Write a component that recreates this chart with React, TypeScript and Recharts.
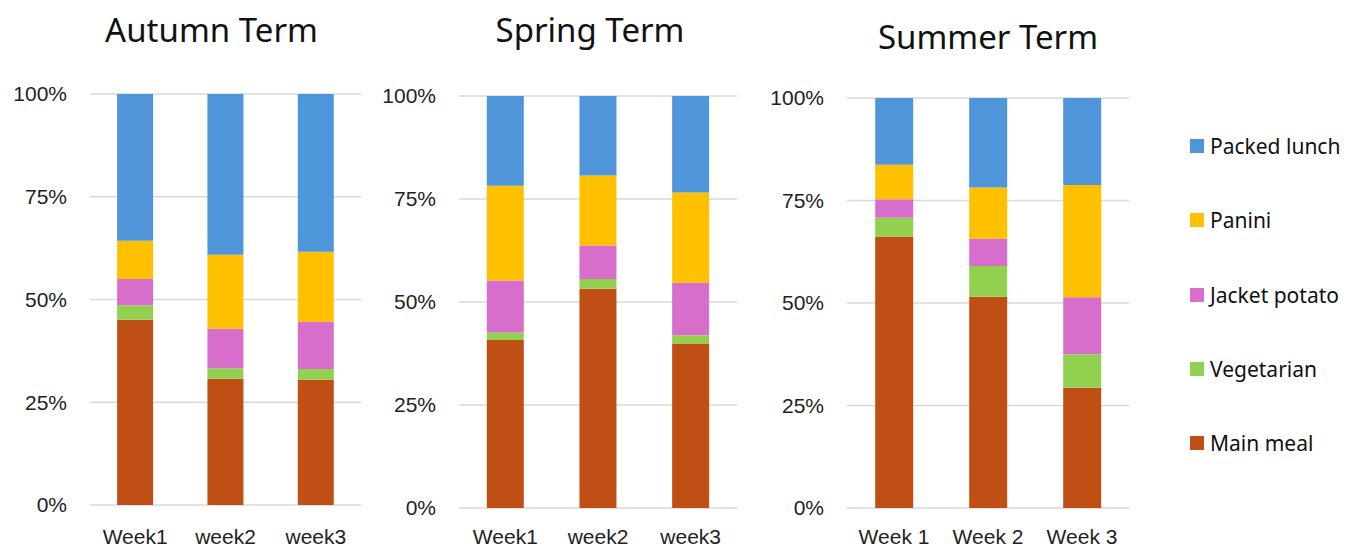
import React from "react";
import { Bar, BarChart, CartesianGrid, Legend, XAxis, YAxis } from "recharts";

// meal choices per week, as share of pupils (%)
const autumnWeeks = ["Week1", "week2", "week3"];
const autumnMain = [45.1, 30.7, 30.5];
const autumnVeg = [3.5, 2.6, 2.6];
const autumnJacket = [6.4, 9.6, 11.5];
const autumnPanini = [9.3, 18.0, 17.0];
const autumnPacked = [35.7, 39.1, 38.4];

const springWeeks = ["Week1", "week2", "week3"];
const springMain = [40.8, 53.2, 39.9];
const springVeg = [1.8, 2.4, 2.0];
const springJacket = [12.6, 8.1, 12.8];
const springPanini = [23.0, 17.0, 21.9];
const springPacked = [21.8, 19.3, 23.4];

const summerWeeks = ["Week 1", "Week 2", "Week 3"];
const summerMain = [66.2, 51.5, 29.3];
const summerVeg = [4.6, 7.5, 8.2];
const summerJacket = [4.5, 6.7, 13.9];
const summerPanini = [8.4, 12.5, 27.4];
const summerPacked = [16.3, 21.8, 21.2];

const yTicks = [0, 0.25, 0.5, 0.75, 1];

// stack order, bottom to top
const SERIES = [
  { key: "main", name: "Main meal", color: "#C04F15" },
  { key: "veg", name: "Vegetarian", color: "#92D050" },
  { key: "jacket", name: "Jacket potato", color: "#D86ECC" },
  { key: "panini", name: "Panini", color: "#FFC000" },
  { key: "packed", name: "Packed lunch", color: "#4E95D9" },
] as const;

const buildRows = (
  weeks: string[],
  main: number[],
  veg: number[],
  jacket: number[],
  panini: number[],
  packed: number[]
) =>
  weeks.map((week, i) => ({
    week,
    main: main[i],
    veg: veg[i],
    jacket: jacket[i],
    panini: panini[i],
    packed: packed[i],
  }));

const autumnData = buildRows(autumnWeeks, autumnMain, autumnVeg, autumnJacket, autumnPanini, autumnPacked);
const springData = buildRows(springWeeks, springMain, springVeg, springJacket, springPanini, springPacked);
const summerData = buildRows(summerWeeks, summerMain, summerVeg, summerJacket, summerPanini, summerPacked);

const TICK_FONT = { fontFamily: "'Liberation Sans', Arial, sans-serif", fontSize: 21, fill: "#222" };
const LABEL_FONT = "'Noto Sans', sans-serif";

// legend lists the series top of stack first
const LegendList = (props: any) => {
  const byName = new Map((props.payload ?? []).map((p: any) => [p.value, p]));
  const items = [...SERIES].reverse().map((s) => byName.get(s.name) as any).filter(Boolean);
  return (
    <div style={{ fontFamily: LABEL_FONT, fontSize: 21, color: "#111" }}>
      {items.map((item: any) => (
        <div key={item.value} style={{ height: 74.3, display: "flex", alignItems: "center" }}>
          <span style={{ width: 14, height: 14, background: item.color, marginRight: 6, flexShrink: 0 }} />
          <span style={{ whiteSpace: "nowrap" }}>{item.value}</span>
        </div>
      ))}
    </div>
  );
};

interface TermChartProps {
  data: ReturnType<typeof buildRows>;
  left: number;
  width: number;
  top: number;
  bottom: number;
  axisWidth: number;
  right: number;
  labelGap: number;
  withLegend?: boolean;
}

const TermChart: React.FC<TermChartProps> = ({
  data,
  left,
  width,
  top,
  bottom,
  axisWidth,
  right,
  labelGap,
  withLegend,
}) => (
  <div style={{ position: "absolute", left, top: 0 }}>
    <BarChart
      width={width}
      height={547}
      data={data}
      stackOffset="expand"
      barCategoryGap="30%"
      margin={{ top, right, bottom: 0, left: 0 }}
    >
      <CartesianGrid vertical={false} stroke="#D9D9D9" strokeWidth={1.5} />
      <XAxis
        dataKey="week"
        axisLine={false}
        tickLine={false}
        height={547 - bottom}
        tickMargin={labelGap}
        tick={TICK_FONT}
        interval={0}
      />
      <YAxis
        type="number"
        domain={[0, 1]}
        ticks={yTicks}
        width={axisWidth}
        axisLine={false}
        tickLine={false}
        tickMargin={17}
        tick={TICK_FONT}
        tickFormatter={(v: number) => `${Math.round(v * 100)}%`}
      />
      {SERIES.map((s) => (
        <Bar key={s.key} dataKey={s.key} name={s.name} stackId="meal" fill={s.color} isAnimationActive={false} />
      ))}
      {withLegend && (
        <Legend
          layout="vertical"
          align="center"
          verticalAlign="middle"
          content={LegendList}
          wrapperStyle={{ left: 440, top: 109, width: 170 }}
        />
      )}
    </BarChart>
  </div>
);

export default function App() {
  return (
    <div style={{ position: "absolute", left: 0, top: 0, width: 1352, height: 547, background: "#fff" }}>
      <TermChart data={autumnData} left={0} width={370} top={94} bottom={505} axisWidth={90} right={9} labelGap={18} />
      <TermChart data={springData} left={370} width={380} top={96} bottom={508} axisWidth={89} right={13} labelGap={15} />
      <TermChart
        data={summerData}
        left={750}
        width={602}
        top={98}
        bottom={508}
        axisWidth={97}
        right={223}
        labelGap={15}
        withLegend
      />
      <svg width={1352} height={547} style={{ position: "absolute", left: 0, top: 0, pointerEvents: "none" }}>
        <g fontFamily={LABEL_FONT} fontSize={33} fill="#111" textAnchor="middle">
          <text x={211.5} y={42}>Autumn Term</text>
          <text x={590} y={42}>Spring Term</text>
          <text x={988} y={49}>Summer Term</text>
        </g>
      </svg>
    </div>
  );
}
